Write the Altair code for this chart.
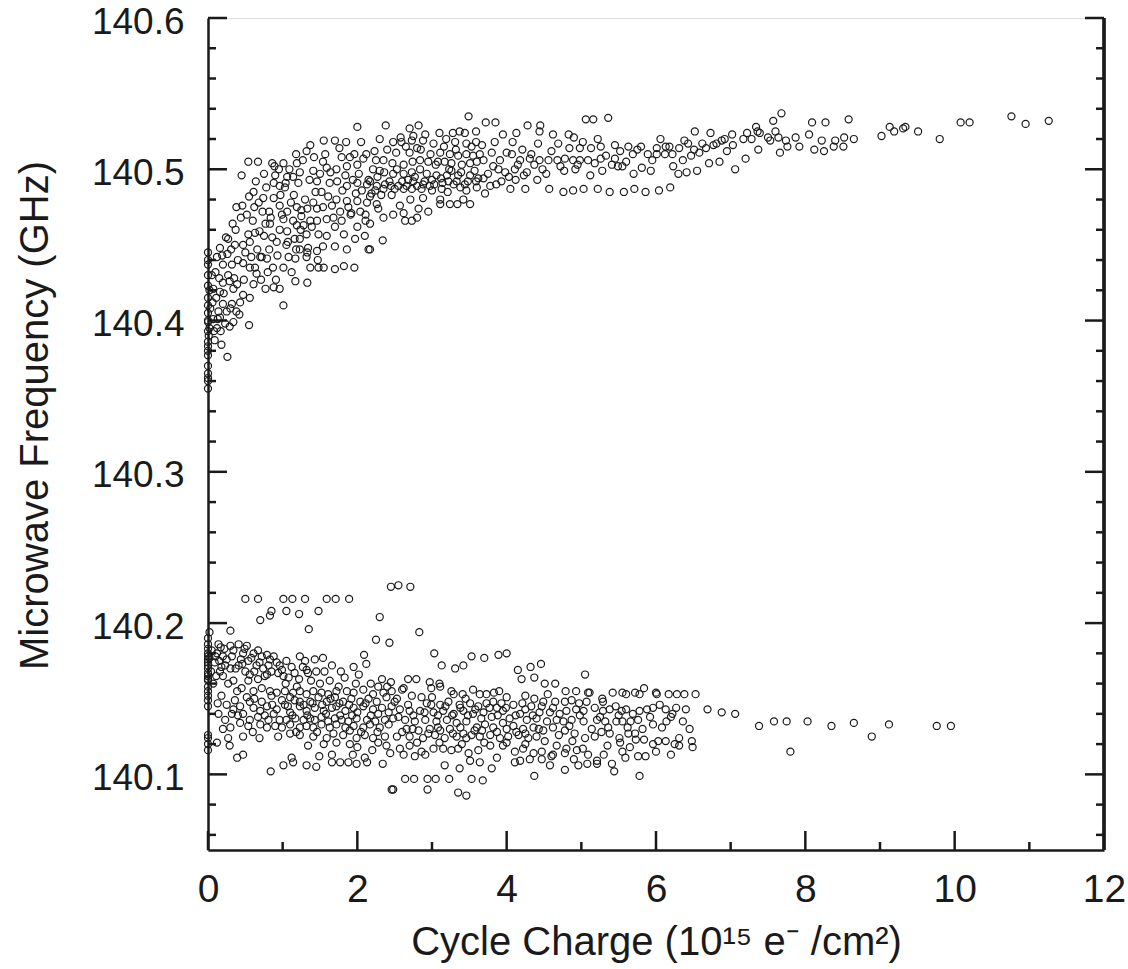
import altair as alt
import pandas as pd

# ---------------- data ----------------
# upper branch, x < 2.17
upper_a = [
(2.00,140.528),(1.55,140.519),(1.70,140.519),(1.85,140.518),(2.05,140.518),(1.37,140.516),(1.18,140.510),(1.32,140.512),
(0.54,140.505),(0.67,140.505),(0.86,140.504),(1.01,140.504),(0.45,140.496),(0.75,140.497),(0.95,140.500),(1.19,140.504),
(1.23,140.498),(1.41,140.499),(1.54,140.505),(1.59,140.501),(1.72,140.500),(1.79,140.508),(1.96,140.510),(2.12,140.510),
(1.86,140.502),(2.00,140.503),(2.00,140.491),(2.13,140.490),(1.86,140.489),(1.63,140.491),(1.46,140.492),(1.14,140.495),
(1.06,140.495),(0.90,140.496),(0.88,140.491),(1.04,140.491),(0.96,140.489),(0.61,140.485),(0.74,140.481),(0.88,140.481),
(0.38,140.475),(0.46,140.476),(0.62,140.475),(0.73,140.472),(0.82,140.472),(0.96,140.476),(1.11,140.478),(1.19,140.475),
(1.06,140.472),(1.25,140.473),(1.33,140.474),(1.41,140.478),(1.46,140.474),(1.54,140.475),(1.66,140.476),(1.72,140.480),
(1.86,140.479),(2.00,140.479),(2.13,140.478),(2.04,140.472),(1.92,140.471),(1.77,140.472),(1.25,140.469),(1.14,140.466),
(1.01,140.467),(0.77,140.464),(0.83,140.464),(0.33,140.464),(0.54,140.457),(0.63,140.458),(0.69,140.459),(0.96,140.460),
(1.06,140.459),(1.19,140.463),(1.28,140.463),(1.37,140.466),(1.46,140.466),(1.59,140.467),(1.70,140.462),(1.79,140.466),
(1.91,140.470),(2.00,140.462),(2.11,140.466),(1.23,140.454),(1.16,140.454),(1.32,140.457),(1.48,140.457),(1.59,140.456),
(1.82,140.457),(1.97,140.454),(2.10,140.456),(2.15,140.447),(1.86,140.447),(1.70,140.449),(1.54,140.449),(1.46,140.446),
(1.34,140.448),(1.23,140.447),(1.05,140.450),(0.92,140.452),(0.82,140.447),(0.70,140.442),(0.56,140.452),(0.47,140.450),
(0.36,140.450),(0.27,140.454),(0.16,140.448),(0.26,140.444),(0.12,140.442),(0.00,140.437),(0.20,140.437),(0.32,140.437),
(0.47,140.438),(0.56,140.435),(0.63,140.435),(0.72,140.442),(0.79,140.441),(0.87,140.435),(1.01,140.435),(1.08,140.442),
(1.17,140.441),(1.32,140.442),(1.37,140.435),(1.48,140.435),(1.55,140.435),(1.70,140.434),(1.82,140.436),(1.96,140.435),
(1.17,140.426),(1.33,140.425),(1.01,140.410),(0.91,140.427),(0.96,140.421),(0.88,140.422),(0.77,140.421),(0.65,140.431),
(0.61,140.424),(0.56,140.415),(0.47,140.417),(0.43,140.412),(0.39,140.424),(0.29,140.426),(0.20,140.425),(0.16,140.419),
(0.07,140.421),(0.00,140.423),(0.34,140.421),(0.32,140.411),(0.20,140.411),(0.14,140.406),(0.25,140.406),(0.34,140.399),
(0.38,140.406),(0.55,140.397),(0.29,140.396),(0.16,140.402),(0.07,140.401),(0.12,140.395),(0.17,140.393),(0.00,140.405),
(0.00,140.393),(0.00,140.386),(0.09,140.387),(0.18,140.384),(0.26,140.376),(0.00,140.377),(0.00,140.380),(0.00,140.399),
(0.00,140.355),(0.00,140.360),(0.00,140.365),(0.00,140.370),(0.01,140.390),(0.00,140.410),(0.00,140.415),(0.00,140.430),
(0.00,140.440),(0.02,140.395),
]
# upper branch, 2.17 <= x < 3.65
upper_b = [
(3.49,140.535),(2.38,140.529),(2.70,140.527),(2.82,140.529),
(2.30,140.520),(2.58,140.521),(2.75,140.522),(2.91,140.523),(3.10,140.524),(3.28,140.524),(3.37,140.525),(3.44,140.524),(3.59,140.525),
(2.48,140.518),(2.59,140.518),(2.73,140.519),(2.88,140.519),(3.02,140.517),(3.16,140.515),(3.31,140.518),(3.46,140.517),(3.59,140.518),
(2.52,140.511),(2.70,140.511),(2.80,140.514),(2.98,140.510),(3.11,140.511),(3.24,140.510),(3.35,140.509),(3.46,140.510),(3.55,140.509),(3.64,140.510),
(2.25,140.506),(2.35,140.506),(2.47,140.504),(2.62,140.503),(2.74,140.505),(2.84,140.506),(2.95,140.505),(3.05,140.503),(3.17,140.505),
(3.26,140.504),(3.40,140.503),(3.51,140.504),(3.60,140.505),
(2.21,140.500),(2.30,140.499),(2.48,140.497),(2.62,140.497),(2.73,140.498),(2.84,140.500),(2.93,140.497),(3.06,140.496),(3.20,140.496),
(3.26,140.499),(3.35,140.496),(3.51,140.496),
(2.17,140.492),(2.26,140.489),(2.37,140.490),(2.45,140.489),(2.55,140.489),(2.66,140.489),(2.75,140.492),(2.88,140.490),(3.00,140.493),
(3.12,140.494),(3.22,140.492),(3.33,140.492),(3.44,140.490),(3.59,140.492),
(2.24,140.486),(2.35,140.487),(2.46,140.483),(2.62,140.487),(2.73,140.487),(2.86,140.487),(3.00,140.486),(3.13,140.487),(3.21,140.485),
(3.38,140.488),(3.46,140.486),(3.60,140.488),
(2.17,140.482),(2.26,140.477),(2.28,140.474),(2.35,140.468),(2.48,140.470),(2.64,140.466),(2.73,140.466),(2.80,140.468),(2.62,140.471),
(2.82,140.474),(2.88,140.481),(2.95,140.472),(3.11,140.477),(3.24,140.477),(3.34,140.477),(3.51,140.477),(3.11,140.480),(2.34,140.453),
(2.17,140.447),(2.17,140.464),
]
# upper branch, 3.65 <= x < 7.39
upper_c = [
(3.72,140.531),(3.85,140.531),(4.28,140.529),(4.45,140.529),(4.44,140.525),(5.06,140.533),(5.16,140.533),(5.36,140.534),(6.52,140.525),
(6.73,140.524),(7.34,140.528),
(3.95,140.523),(4.13,140.524),(4.62,140.523),(4.83,140.523),(4.90,140.521),(4.69,140.517),(4.98,140.514),(5.13,140.514),(5.26,140.515),
(5.45,140.516),(5.63,140.515),(5.80,140.515),(6.01,140.514),(6.13,140.515),(6.18,140.515),(6.31,140.514),(6.38,140.519),(6.43,140.517),
(6.51,140.513),(6.58,140.511),(6.67,140.514),(6.77,140.516),(6.81,140.517),(6.88,140.519),(6.92,140.520),(7.02,140.523),(7.03,140.516),
(7.17,140.520),(7.22,140.524),(7.28,140.520),(7.36,140.525),(7.37,140.513),
(3.69,140.506),(3.80,140.511),(3.91,140.506),(4.07,140.510),(4.18,140.506),(4.31,140.507),(4.44,140.506),(4.56,140.506),(4.68,140.506),
(4.78,140.507),(4.89,140.506),(4.98,140.506),(5.09,140.506),(5.26,140.507),(5.45,140.507),(5.55,140.502),(5.69,140.510),(5.81,140.501),
(5.89,140.510),(6.01,140.510),(6.12,140.510),(6.23,140.502),(6.41,140.498),(6.55,140.499),(6.71,140.504),(6.85,140.505),(7.06,140.500),
(7.20,140.507),
(3.82,140.502),(3.98,140.498),(4.11,140.500),(4.27,140.498),(4.53,140.497),(4.77,140.499),(4.92,140.500),(5.12,140.496),(5.28,140.499),
(5.41,140.503),(5.49,140.502),(5.70,140.497),(5.93,140.499),(6.30,140.497),
(3.69,140.494),(3.86,140.490),(4.12,140.493),(4.41,140.493),(4.05,140.487),(4.25,140.487),(4.57,140.487),(4.76,140.485),(4.89,140.486),
(5.03,140.487),(5.22,140.487),(5.38,140.485),(5.57,140.485),(5.71,140.487),(5.86,140.485),(6.04,140.486),(6.19,140.488),(3.71,140.484),
]
# upper branch, x >= 7.39
upper_d = [
(7.68,140.537),(7.57,140.532),(7.60,140.525),(7.39,140.524),(7.50,140.521),(7.53,140.519),(7.64,140.521),(7.74,140.519),(7.76,140.515),
(7.66,140.511),(7.87,140.521),(7.92,140.515),(8.05,140.523),(8.09,140.531),(8.12,140.513),(8.22,140.519),(8.25,140.512),(8.27,140.531),
(8.38,140.515),(8.40,140.519),(8.51,140.515),(8.52,140.521),(8.58,140.533),(8.65,140.520),(9.02,140.522),(9.13,140.528),(9.19,140.525),
(9.31,140.527),(9.34,140.528),(9.51,140.525),(9.80,140.520),(10.08,140.531),(10.20,140.531),(10.76,140.535),(10.95,140.530),(11.26,140.532),
]
# upper branch, further points in the dense part
upper_e = [
(0.00,140.445),(0.00,140.400),(0.00,140.383),(0.00,140.362),(0.02,140.420),(0.03,140.408),(0.05,140.430),(0.06,140.412),(0.08,140.393),
(0.10,140.432),(0.11,140.415),(0.13,140.401),(0.15,140.428),(0.19,140.443),(0.21,140.418),(0.23,140.398),(0.24,140.455),(0.27,140.430),
(0.30,140.408),(0.31,140.447),(0.35,140.428),(0.37,140.460),(0.40,140.440),(0.42,140.404),(0.44,140.468),(0.48,140.427),(0.50,140.445),
(0.52,140.470),(0.55,140.482),(0.58,140.442),(0.60,140.466),(0.64,140.492),(0.66,140.447),(0.68,140.478),(0.71,140.427),(0.75,140.456),
(0.78,140.488),(0.80,140.432),(0.84,140.468),(0.86,140.455),(0.89,140.502),(0.93,140.443),(0.97,140.483),(0.99,140.470),(1.03,140.488),
(1.07,140.452),(1.09,140.500),(1.12,140.432),(1.15,140.483),(1.18,140.447),(1.21,140.491),(1.24,140.460),(1.27,140.506),(1.30,140.480),
(1.33,140.445),(1.36,140.493),(1.39,140.462),(1.42,140.508),(1.44,140.485),(1.47,140.440),(1.50,140.497),
(1.52,140.485),(1.57,140.510),(1.61,140.482),(1.64,140.498),(1.68,140.468),(1.73,140.492),(1.76,140.514),(1.80,140.486),(1.84,140.496),
(1.88,140.475),(1.90,140.508),(1.94,140.493),(1.98,140.484),(2.02,140.497),(2.06,140.486),(2.08,140.507),(2.11,140.470),(2.15,140.493),
(2.19,140.484),(2.23,140.512),(2.27,140.495),(2.32,140.483),(2.36,140.498),(2.40,140.513),(2.43,140.492),(2.50,140.487),(2.53,140.500),
(2.57,140.476),(2.60,140.492),(2.65,140.515),(2.68,140.493),(2.71,140.480),(2.77,140.495),(2.80,140.489),(2.85,140.513),(2.90,140.492),
(2.97,140.489),
(3.03,140.490),(3.08,140.505),(3.14,140.491),(3.19,140.520),(3.23,140.500),(3.29,140.490),(3.32,140.513),(3.39,140.498),(3.42,140.480),
(3.48,140.492),(3.53,140.515),(3.57,140.499),(3.62,140.494),(3.67,140.516),(3.75,140.497),(3.78,140.489),(3.84,140.518),(3.89,140.500),
(3.93,140.492),(4.00,140.511),(4.03,140.495),(4.08,140.518),(4.15,140.503),(4.21,140.513),(4.23,140.496),(4.33,140.510),(4.37,140.503),
(4.42,140.517),(4.48,140.500),
(4.60,140.512),(4.72,140.502),(4.84,140.514),(4.95,140.503),(5.02,140.518),(5.18,140.504),(5.22,140.520),(5.33,140.509),(5.52,140.512),
(5.60,140.505),(5.75,140.513),(5.95,140.506),(6.06,140.520),(6.22,140.510),(6.36,140.506),(6.47,140.509),(6.62,140.517),(6.95,140.512),
]
# lower branch, x < 2.5
lower_a = [
(0.50,140.216),(0.67,140.216),(1.01,140.216),(1.13,140.216),(1.30,140.216),(1.59,140.216),(1.71,140.216),(1.89,140.216),(0.85,140.208),
(0.83,140.205),(1.05,140.208),(1.22,140.206),(1.48,140.208),(0.70,140.202),(2.30,140.204),(0.30,140.195),(1.35,140.196),(0.02,140.194),
(2.25,140.189),(2.43,140.187),(2.45,140.224),(2.55,140.225),(2.71,140.224),
(0.00,140.186),(0.00,140.180),(0.00,140.178),(0.00,140.176),(0.00,140.174),(0.00,140.170),(0.00,140.167),(0.00,140.163),(0.00,140.162),
(0.00,140.155),(0.00,140.149),(0.00,140.126),(0.00,140.124),(0.00,140.116),
(0.14,140.186),(0.17,140.184),(0.12,140.180),(0.20,140.178),(0.15,140.175),(0.09,140.174),(0.23,140.172),(0.16,140.168),(0.20,140.165),
(0.30,140.185),(0.32,140.178),(0.30,140.170),(0.34,140.162),(0.41,140.186),(0.44,140.176),(0.41,140.172),(0.47,140.180),(0.52,140.185),
(0.54,140.175),(0.50,140.168),(0.56,140.166),(0.61,140.180),(0.67,140.182),(0.65,140.172),(0.72,140.178),(0.79,140.179),(0.74,140.170),
(0.83,140.176),(0.85,140.168),(0.94,140.167),(0.99,140.169),(0.92,140.174),(1.05,140.175),(1.12,140.171),(1.01,140.165),(0.54,140.162),
(0.67,140.163),(0.79,140.166),(1.08,140.164),(1.23,140.178),(1.30,140.175),(1.32,140.169),(1.43,140.176),(1.54,140.177),(1.66,140.172),
(1.95,140.171),(1.78,140.168),(1.34,140.167),(1.22,140.163),(1.45,140.168),(2.09,140.179),(2.12,140.173),(2.28,140.158),(2.33,140.163),
(2.45,140.161),
(0.45,140.157),(0.61,140.155),(0.72,140.157),(0.83,140.155),(0.92,140.154),(1.03,140.155),(1.14,140.154),(1.23,140.155),(1.32,140.153),
(1.41,140.155),(1.52,140.154),(1.61,140.153),(1.72,140.155),(1.86,140.155),(1.95,140.154),(2.08,140.156),(2.21,140.153),(2.35,140.154),
(2.46,140.155),(0.52,140.151),(0.56,140.148),(0.72,140.148),(0.85,140.152),(0.99,140.149),(1.10,140.151),(1.23,140.148),(1.37,140.148),
(1.48,140.151),(1.59,140.148),(1.70,140.151),(1.81,140.148),(1.92,140.150),(2.04,140.148),(2.15,140.150),(2.26,140.148),(2.39,140.151),
(2.50,140.148),(0.13,140.147),(0.18,140.152),(0.36,140.149),
(0.34,140.143),(0.43,140.145),(0.61,140.144),(0.70,140.142),(0.79,140.145),(0.92,140.143),(1.03,140.146),(1.10,140.141),(1.23,140.145),
(1.32,140.142),(1.43,140.144),(1.55,140.142),(1.66,140.144),(1.72,140.145),(1.84,140.142),(1.95,140.144),(2.08,140.145),(2.21,140.143),
(2.33,140.144),(2.46,140.145),
(0.14,140.140),(0.23,140.136),(0.32,140.140),(0.47,140.140),(0.56,140.136),(0.67,140.138),(0.81,140.136),(0.88,140.140),(0.96,140.136),
(1.05,140.136),(1.17,140.137),(1.28,140.136),(1.37,140.137),(1.43,140.136),(1.52,140.138),(1.61,140.135),(1.70,140.137),(1.79,140.136),
(1.88,140.135),(1.99,140.137),(2.13,140.136),(2.24,140.135),(2.37,140.136),(2.48,140.137),
(0.43,140.134),(0.54,140.132),(0.70,140.133),(0.79,140.131),(0.90,140.132),(0.99,140.131),(1.10,140.133),(1.23,140.131),(1.32,140.132),
(1.41,140.131),(1.52,140.133),(1.63,140.131),(1.72,140.133),(1.84,140.131),(1.95,140.132),(2.08,140.131),(2.17,140.133),(2.30,140.131),
(2.42,140.133),
(0.30,140.131),(0.27,140.124),(0.47,140.125),(0.69,140.124),(0.94,140.125),(1.10,140.127),(1.23,140.126),(1.41,140.125),(1.59,140.124),
(1.81,140.126),(1.99,140.124),(2.10,140.126),(2.21,140.124),(2.37,140.125),
(0.12,140.121),(0.29,140.119),(0.47,140.113),(0.39,140.111),(1.34,140.119),(1.72,140.121),(1.90,140.120),(2.28,140.121),(2.39,140.119),
(2.44,140.114),(1.12,140.111),(1.01,140.106),(1.14,140.108),(1.32,140.106),(1.45,140.105),(1.49,140.112),(1.66,140.113),(1.66,140.108),
(1.77,140.108),(1.88,140.108),(1.99,140.107),(1.94,140.113),(2.13,140.108),(2.10,140.111),(2.34,140.107),(0.84,140.102),(2.46,140.090),
]
# lower branch, 2.5 <= x < 5.1
lower_b = [
(2.83,140.194),(3.03,140.180),(3.53,140.178),(3.70,140.177),(3.89,140.179),(4.00,140.180),(3.13,140.172),(3.31,140.170),(3.42,140.172),
(4.15,140.169),(4.32,140.171),(4.46,140.173),(4.20,140.163),(4.37,140.164),(5.05,140.166),(4.51,140.160),(4.65,140.160),(4.79,140.155),
(4.93,140.155),(5.09,140.154),
(2.68,140.163),(2.79,140.163),(2.97,140.161),(3.10,140.160),(2.62,140.157),(2.73,140.152),(2.86,140.151),(2.99,140.157),(3.11,140.158),
(3.26,140.155),(3.29,140.153),(3.41,140.153),(3.55,140.156),(3.64,140.153),(3.73,140.153),(3.83,140.154),(4.00,140.151),(3.93,140.147),
(3.82,140.148),(4.09,140.146),(4.21,140.147),(4.37,140.150),(4.49,140.148),(4.65,140.148),(4.78,140.148),(4.87,140.149),(4.97,140.147),
(5.07,140.148),(2.53,140.150),(2.93,140.147),(3.11,140.146),(3.22,140.148),(3.37,140.146),(3.51,140.147),(3.62,140.145),(3.73,140.147),
(3.87,140.144),(4.33,140.145),(4.47,140.145),(4.62,140.144),(4.80,140.142),(4.93,140.143),(5.03,140.142),
(2.57,140.143),(2.70,140.142),(2.84,140.142),(3.02,140.141),(3.15,140.142),(3.29,140.140),(3.42,140.142),(3.55,140.140),(3.69,140.141),
(3.80,140.138),(3.95,140.142),(4.04,140.137),(4.18,140.140),(4.27,140.136),(4.40,140.137),(4.54,140.135),(4.67,140.136),(4.76,140.135),
(4.87,140.136),(5.03,140.135),(2.64,140.136),(2.77,140.135),(2.91,140.136),(3.06,140.135),(3.20,140.136),(3.33,140.134),(3.46,140.135),
(3.60,140.131),(3.71,140.133),(3.82,140.131),(3.95,140.134),(4.09,140.132),(4.22,140.130),(4.36,140.131),(4.49,140.129),(4.62,140.131),
(4.78,140.129),(4.91,140.127),(2.66,140.130),(2.82,140.129),(2.97,140.130),(3.11,140.129),(3.24,140.130),(3.42,140.127),(3.53,140.126),
(2.53,140.125),(2.70,140.125),(2.88,140.124),(3.04,140.126),(3.17,140.124),(3.33,140.125),(3.46,140.124),(3.64,140.125),(3.78,140.126),
(3.91,140.124),(4.02,140.125),(4.16,140.126),(4.29,140.124),(4.40,140.125),(4.51,140.122),(4.67,140.119),(4.80,140.117),(4.94,140.116),
(5.02,140.117),(5.09,140.113),
(2.57,140.117),(2.70,140.119),(2.86,140.115),(3.02,140.117),(3.15,140.117),(3.26,140.116),(3.35,140.117),(3.49,140.114),(3.62,140.116),
(3.78,140.119),(3.95,140.119),(4.11,140.115),(4.22,140.117),(4.36,140.114),(4.47,140.115),(4.62,140.113),(4.78,140.114),(2.62,140.113),
(2.77,140.112),(2.91,140.113),(3.17,140.106),(3.37,140.104),(3.51,140.109),(3.64,140.108),(3.80,140.104),(3.87,140.111),(4.11,140.108),
(4.18,140.109),(4.31,140.110),(4.47,140.110),(4.58,140.106),(4.78,140.103),(4.96,140.106),(5.08,140.107),
(2.64,140.097),(2.76,140.097),(2.94,140.097),(3.05,140.097),(3.23,140.097),(3.53,140.097),(3.68,140.096),(4.37,140.099),(2.48,140.090),
(2.94,140.090),(3.35,140.088),(3.46,140.086),
]
# lower branch, x >= 5.1
lower_c = [
(5.11,140.154),(5.28,140.150),(5.42,140.154),(5.55,140.154),(5.60,140.153),(5.72,140.154),(5.78,140.153),(5.84,140.157),(6.00,140.154),
(6.01,140.153),(6.17,140.153),(6.28,140.153),(6.38,140.153),(6.53,140.153),
(5.29,140.148),(5.18,140.144),(5.29,140.142),(5.38,140.143),(5.46,140.145),(5.54,140.142),(5.60,140.143),(5.69,140.140),(5.78,140.142),
(5.88,140.143),(5.96,140.144),(6.05,140.146),(6.13,140.143),(6.27,140.144),(6.40,140.143),(6.69,140.143),(6.88,140.141),(7.06,140.140),
(5.21,140.136),(5.32,140.135),(5.47,140.135),(5.55,140.135),(5.66,140.135),(5.76,140.136),(5.96,140.133),(6.14,140.135),(6.20,140.138),
(6.36,140.135),
(5.18,140.125),(5.27,140.128),(5.38,140.127),(5.51,140.124),(5.52,140.121),(5.63,140.127),(5.72,140.127),(5.73,140.123),(5.84,140.123),
(5.96,140.120),(6.03,140.122),(6.13,140.122),(6.25,140.120),(6.31,140.124),(6.31,140.119),(6.48,140.122),(6.49,140.118),
(5.21,140.107),(5.21,140.109),(5.41,140.107),(5.44,140.102),(5.59,140.111),(5.76,140.112),(5.86,140.112),(5.78,140.099),
(7.38,140.132),(7.58,140.135),(7.75,140.135),(7.80,140.115),(8.03,140.135),(8.35,140.132),(8.65,140.134),(8.89,140.125),(9.12,140.133),
(9.76,140.132),(9.95,140.132),
]
# lower branch, further points in the dense part
lower_d = [
(0.00,140.190),(0.00,140.183),(0.00,140.172),(0.00,140.165),(0.00,140.158),(0.00,140.152),(0.00,140.145),(0.00,140.120),(0.02,140.177),
(0.04,140.168),(0.05,140.182),(0.07,140.160),(0.10,140.178),(0.11,140.165),(0.18,140.171),(0.22,140.183),(0.25,140.176),(0.27,140.160),
(0.34,140.182),(0.37,140.170),(0.39,140.155),(0.46,140.173),(0.49,140.183),(0.58,140.177),(0.62,140.168),(0.69,140.174),(0.76,140.165),
(0.81,140.172),(0.88,140.178),(0.96,140.172),(0.25,140.146),(0.40,140.139),(0.62,140.150),(0.76,140.139),(0.86,140.146),(0.20,140.130),
(0.60,140.128),
(1.04,140.160),(1.16,140.167),(1.19,140.158),(1.27,140.171),(1.38,140.162),(1.50,140.160),(1.56,140.168),(1.63,140.162),(1.75,140.158),
(1.83,140.164),(1.98,140.160),(2.02,140.166),(2.18,140.160),(2.40,140.158),(1.07,140.145),(1.16,140.149),(1.28,140.146),(1.40,140.147),
(1.53,140.146),(1.64,140.150),(1.76,140.147),(1.89,140.146),(2.00,140.141),(2.11,140.147),(2.28,140.140),(2.42,140.141),(1.13,140.139),
(1.33,140.139),(1.58,140.140),(1.77,140.139),(1.93,140.139),(2.18,140.139),(1.18,140.128),(1.46,140.128),(1.68,140.127),(1.90,140.129),
(2.05,140.128),(2.27,140.128),(1.55,140.120),(2.00,140.118),(2.20,140.116),
(2.55,140.138),(2.68,140.146),(2.75,140.139),(2.90,140.141),(2.99,140.146),(3.08,140.139),(3.18,140.145),(3.27,140.139),(3.38,140.144),
(3.48,140.139),(3.58,140.143),(3.66,140.137),(3.77,140.144),(3.88,140.139),(3.99,140.144),(4.12,140.139),(4.25,140.143),(4.35,140.139),
(4.44,140.141),(2.60,140.128),(2.74,140.130),(2.95,140.127),(3.08,140.131),(3.28,140.127),(3.38,140.131),(3.57,140.129),(3.67,140.129),
(3.87,140.128),(4.00,140.130),(4.13,140.128),(4.25,140.127),(4.43,140.130),(2.80,140.121),(3.10,140.121),(3.40,140.120),(3.70,140.121),
(4.00,140.121),(4.25,140.120),(2.60,140.156),(3.00,140.151),(3.45,140.150),(3.90,140.155),(4.25,140.152),(4.55,140.153),
(4.58,140.141),(4.71,140.140),(4.84,140.132),(4.98,140.139),(5.14,140.130),(5.25,140.138),(5.36,140.131),(5.50,140.139),(5.62,140.131),
(5.82,140.130),(5.92,140.138),(6.08,140.131),(6.22,140.140),(6.45,140.130),(4.70,140.126),(4.88,140.122),(5.05,140.124),(5.35,140.119),
(5.65,140.118),(6.00,140.115),(6.20,140.113),(4.60,140.112),(4.90,140.110),(5.30,140.113),(5.55,140.115),
]

x_major = [0, 2, 4, 6, 8, 10, 12]
x_minor = [1, 3, 5, 7, 9, 11]
y_major = [140.1, 140.2, 140.3, 140.4, 140.5, 140.6]
y_minor = [140.06, 140.08, 140.12, 140.14, 140.16, 140.18, 140.22, 140.24, 140.26, 140.28,
           140.32, 140.34, 140.36, 140.38, 140.42, 140.44, 140.46, 140.48, 140.52, 140.54, 140.56, 140.58]

# ---------------- chart ----------------
W, H = 896, 832
INK = "#1a1a1a"
FONT = "Liberation Sans"
X_TITLE = "Cycle Charge (10\u00b9\u2075 e\u207b /cm\u00b2)"
Y_TITLE = "Microwave Frequency (GHz)"

all_pts = upper_a + upper_b + upper_c + upper_d + upper_e + lower_a + lower_b + lower_c + lower_d
pts = pd.DataFrame(all_pts, columns=["x", "y"])

xs = alt.Scale(domain=[0, 12], nice=False, zero=False)
ys = alt.Scale(domain=[140.05, 140.6], nice=False, zero=False)

x_axis = alt.Axis(
    title=X_TITLE, values=x_major, format="d",
    grid=False, ticks=False, domain=True, domainColor=INK, domainWidth=2.5,
    labelFont=FONT, labelFontSize=39, labelColor=INK, labelPadding=20, labelFlush=False,
    titleFont=FONT, titleFontSize=40, titleFontWeight="normal", titleColor=INK,
    titleBaseline="alphabetic", titleY=104)
y_axis = alt.Axis(
    title=Y_TITLE, values=y_major, format=".1f",
    grid=False, ticks=False, domain=True, domainColor=INK, domainWidth=2.5,
    labelFont=FONT, labelFontSize=37, labelColor=INK, labelPadding=24, labelFlush=False,
    labelOffset=4,
    titleFont=FONT, titleFontSize=40, titleFontWeight="normal", titleColor=INK,
    titleBaseline="alphabetic", titleAngle=270, titleX=-161, titleY=397)

points = alt.Chart(pts).mark_point(
    shape="circle", filled=False, color=INK, size=50, strokeWidth=1.2, opacity=1
).encode(
    x=alt.X("x:Q", scale=xs, axis=x_axis),
    y=alt.Y("y:Q", scale=ys, axis=y_axis),
)

ymaj = pd.DataFrame({"y": y_major})
ymin = pd.DataFrame({"y": y_minor})
xmaj = pd.DataFrame({"x": x_major})
xmin = pd.DataFrame({"x": x_minor})

def yticks(df, x0, x1):
    return alt.Chart(df).mark_rule(color=INK, strokeWidth=2.5).encode(
        y=alt.Y("y:Q", scale=ys, axis=y_axis), x=alt.value(x0), x2=alt.value(x1))

def xticks(df, y0, y1):
    return alt.Chart(df).mark_rule(color=INK, strokeWidth=2.5).encode(
        x=alt.X("x:Q", scale=xs, axis=x_axis), y=alt.value(y0), y2=alt.value(y1))

right_line = alt.Chart(ymaj).mark_rule(color=INK, strokeWidth=2.5).encode(
    x=alt.value(W), y=alt.value(0), y2=alt.value(H))

chart = alt.layer(
    points,
    yticks(ymaj, 0, 19), yticks(ymin, 0, 8),
    yticks(ymaj, W, W - 19), yticks(ymin, W, W - 8),
    xticks(xmaj, H, H - 19), xticks(xmin, H, H - 8),
    right_line,
).properties(
    width=W, height=H,
    autosize=alt.AutoSizeParams(type="none"),
    padding={"left": 208, "top": 18, "right": 24, "bottom": 119},
).configure_view(stroke=None).configure(background="white")

chart.save("out.html", embed_options={"renderer": "svg", "actions": False})
